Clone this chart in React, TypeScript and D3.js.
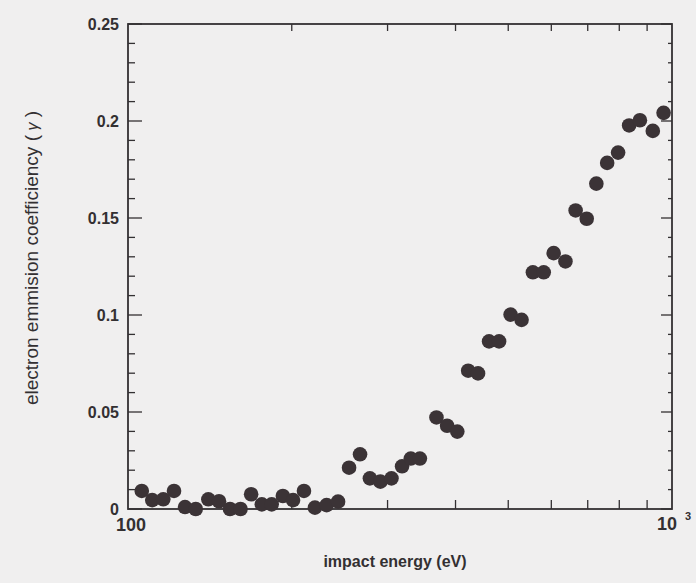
import React from 'react';
import * as d3 from 'd3';

// impact energy (eV) and electron emission coefficient
const energy = [
  106, 110.8, 116.1, 121.5, 127.3, 133.2, 140.5, 147, 154, 161,
  168.4, 176.2, 183.7, 192.6, 201.1, 210.6, 220.6, 231.8, 243.3, 254.9,
  267, 278.4, 291, 305, 319, 331, 344, 369, 386, 403,
  422, 440, 461, 481, 505, 529, 555, 581, 606, 637,
  665, 697, 726, 760, 796, 834, 873, 922, 965,
];
const gamma = [
  0.0093, 0.0046, 0.005, 0.0093, 0.001, 0, 0.005, 0.004, 0, 0,
  0.0076, 0.0024, 0.0024, 0.0067, 0.0046, 0.0093, 0.0007, 0.002, 0.0038, 0.0213,
  0.0282, 0.0158, 0.0141, 0.0158, 0.022, 0.026, 0.026, 0.0472, 0.0429, 0.0399,
  0.0713, 0.0699, 0.0864, 0.0864, 0.1002, 0.0975, 0.122, 0.122, 0.1319, 0.1276,
  0.1539, 0.1496, 0.1677, 0.1784, 0.1837, 0.1977, 0.2004, 0.1949, 0.2042,
];
const yTicks = [0, 0.05, 0.1, 0.15, 0.2, 0.25];
const yTickLabels = ['0', '0.05', '0.1', '0.15', '0.2', '0.25'];
const xMinorTicks = [200, 300, 400, 500, 600, 700, 800, 900];

const W = 696;
const H = 583;
const m = { left: 128, right: 672, top: 24, bottom: 509 };
const ink = '#333032';

function App() {
  const x = d3.scaleLog().domain([100, 1000]).range([m.left, m.right]);
  const y = d3.scaleLinear().domain([0, 0.25]).range([m.bottom, m.top]);
  const yMinor = d3.range(0, 0.2501, 0.01);

  return (
    <div style={{ position: 'absolute', left: 0, top: 0 }}>
      <svg width={W} height={H} style={{ display: 'block', fontFamily: 'Liberation Sans, Arial, sans-serif' }}>
        <rect width={W} height={H} fill="#f0efef" />

        {/* y ticks, inward on both sides */}
        {yMinor.map((v, i) => {
          const major = i % 5 === 0;
          return (
            <g key={'y' + i} stroke={ink} strokeWidth={1.3}>
              <line x1={m.left} x2={m.left + (major ? 14 : 7)} y1={y(v)} y2={y(v)} />
              <line x1={m.right} x2={m.right - (major ? 11 : 4)} y1={y(v)} y2={y(v)} />
            </g>
          );
        })}
        {xMinorTicks.map((v) => (
          <g key={'x' + v} stroke={ink} strokeWidth={1.3}>
            <line x1={x(v)} x2={x(v)} y1={m.bottom} y2={m.bottom - 9} />
            <line x1={x(v)} x2={x(v)} y1={m.top} y2={m.top + 7} />
          </g>
        ))}

        <rect
          x={m.left}
          y={m.top}
          width={m.right - m.left}
          height={m.bottom - m.top}
          fill="none"
          stroke={ink}
          strokeWidth={1.8}
        />

        {energy.map((e, i) => (
          <circle key={i} cx={x(e)} cy={y(gamma[i])} r={7.3} fill="#3b3336" />
        ))}

        {yTicks.map((v, i) => (
          <text
            key={'yl' + i}
            x={119}
            y={y(v)}
            dy="0.35em"
            textAnchor="end"
            fontSize={16}
            fontWeight="bold"
            fill={ink}
          >
            {yTickLabels[i]}
          </text>
        ))}

        <text x={131} y={531} textAnchor="middle" fontSize={18} fontWeight="bold" fill={ink}>
          100
        </text>
        <text x={667} y={530} textAnchor="middle" fontSize={18} fontWeight="bold" fill={ink}>
          10
        </text>
        <text x={688} y={520} textAnchor="middle" fontSize={11} fontWeight="bold" fill={ink}>
          3
        </text>

        <text x={395} y={567} textAnchor="middle" fontSize={16} fontWeight="bold" fill={ink}>
          impact energy (eV)
        </text>
        <text
          transform={`translate(38, 258) rotate(-90)`}
          textAnchor="middle"
          fontSize={19}
          fill={ink}
        >
          electron emmision coefficiency (<tspan fontStyle="italic" fontSize={16}> γ</tspan> )
        </text>
      </svg>
    </div>
  );
}

export default App;
